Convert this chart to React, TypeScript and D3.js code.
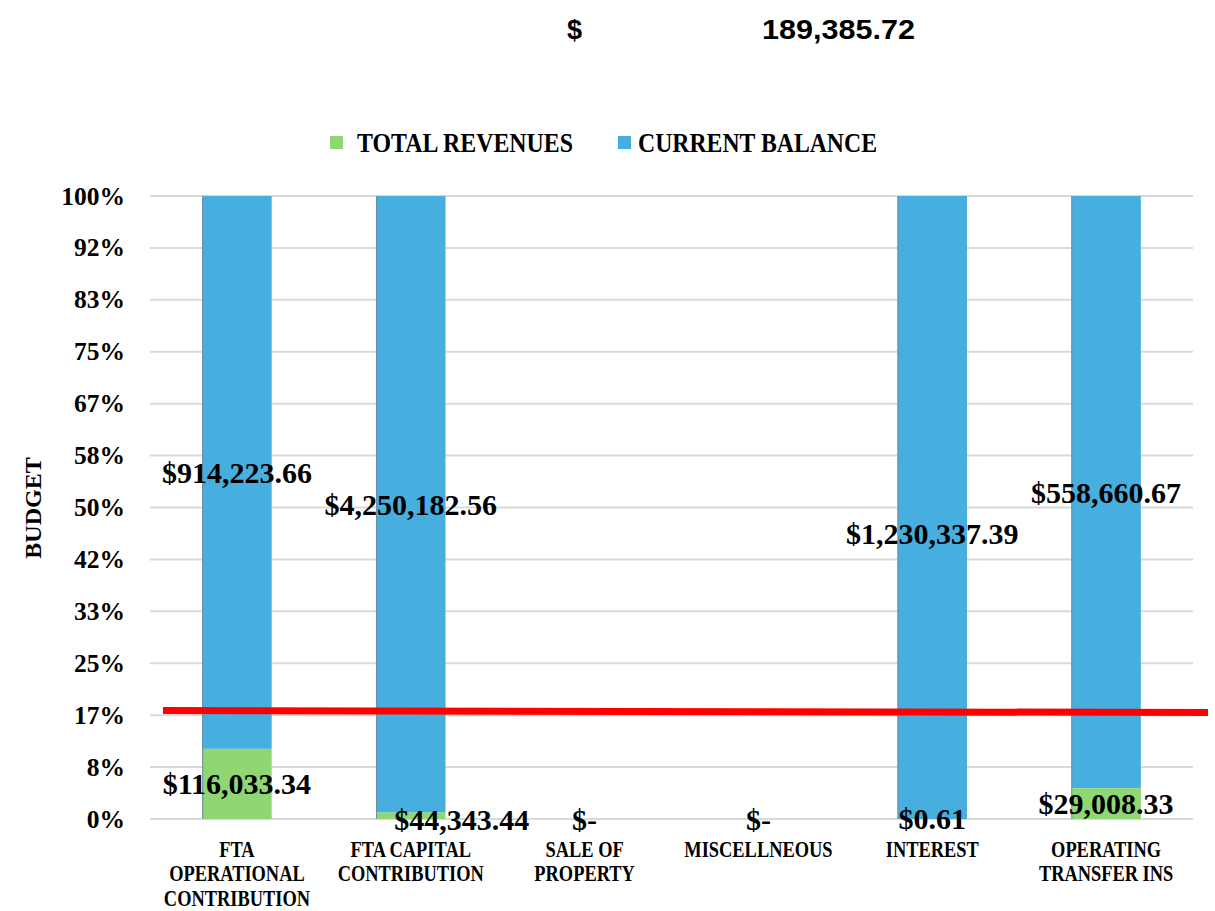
import React from "react";
import * as d3 from "d3";

const categories = [
  ["FTA", "OPERATIONAL", "CONTRIBUTION"],
  ["FTA CAPITAL", "CONTRIBUTION"],
  ["SALE OF", "PROPERTY"],
  ["MISCELLNEOUS"],
  ["INTEREST"],
  ["OPERATING", "TRANSFER INS"],
];
const totalRevenues = [116033.34, 44343.44, 0, 0, 0.61, 29008.33];
const currentBalance = [914223.66, 4250182.56, 0, 0, 1230337.39, 558660.67];
const yTicks = d3.range(0, 13).map((i) => i / 12);
const targetShare = [0.174, 0.171];
const headline = 189385.72;
const seriesNames = ["TOTAL REVENUES", "CURRENT BALANCE"];

// label nudges (the labels were dragged by hand in the original)
const revLabelDx = [0, 51, 0, 0, 0, 0];
const revLabelDy = [0, 4, 0, 0, 0, 0];
const balLabelDy = [0, 0, 0, 0, 26, 0];

const GREEN = "#90d672";
const BLUE = "#47afe0";
const SERIF = "'Liberation Serif', 'DejaVu Serif', serif";

const W = 1215;
const H = 911;

const money = (v: number) => (v === 0 ? "$-" : "$" + d3.format(",.2f")(v));

export default function App() {
  const x = d3
    .scaleBand<number>()
    .domain(categories.map((_, i) => i))
    .range([150, 1193])
    .paddingInner(0.6)
    .paddingOuter(0.3);
  const y = d3.scaleLinear().domain([0, 1]).range([819, 196]);
  const lineX = d3.scaleLinear().domain([0, 1]).range([163, 1208]);

  const rows = categories.map((c, i) => {
    const total = totalRevenues[i] + currentBalance[i];
    const rev = total ? totalRevenues[i] / total : 0;
    return { i, rev, top: total ? 1 : 0 };
  });
  const pct = d3.format(".0%");
  const line = d3
    .line<number>()
    .x((_, i) => lineX(i))
    .y((d) => y(d));

  return (
    <svg
      width={W}
      height={H}
      style={{ position: "absolute", left: 0, top: 0, background: "#fff" }}
    >
      {/* headline */}
      <g fontFamily="'Liberation Sans', Arial, sans-serif" fontWeight="bold" fontSize={27} fill="#000">
        <text x={567} y={39}>$</text>
        <text x={762} y={39} textLength={153} lengthAdjust="spacingAndGlyphs">
          {d3.format(",.2f")(headline)}
        </text>
      </g>

      {/* legend */}
      <g fontFamily={SERIF} fontWeight="bold" fontSize={27}>
        <rect x={330} y={136} width={13} height={13} fill={GREEN} />
        <text x={357} y={152} textLength={216} lengthAdjust="spacingAndGlyphs">
          {seriesNames[0]}
        </text>
        <rect x={618} y={136} width={13} height={13} fill={BLUE} />
        <text x={638} y={152} textLength={239} lengthAdjust="spacingAndGlyphs">
          {seriesNames[1]}
        </text>
      </g>

      {/* grid + y axis */}
      <g>
        {yTicks.map((t) => (
          <g key={t}>
            <line x1={150} x2={1193} y1={y(t)} y2={y(t)} stroke="#d9d9d9" strokeWidth={2} />
            <text
              x={125}
              y={y(t)}
              textAnchor="end"
              dominantBaseline="central"
              fontFamily={SERIF}
              fontWeight="bold"
              fontSize={25.5}
            >
              {pct(t)}
            </text>
          </g>
        ))}
      </g>
      <text
        transform={`translate(41,508) rotate(-90)`}
        textAnchor="middle"
        fontFamily={SERIF}
        fontWeight="bold"
        fontSize={24}
      >
        BUDGET
      </text>

      {/* bars */}
      {rows.map((r) => (
        <g key={r.i}>
          {r.top > 0 && (
            <>
              <rect
                x={x(r.i)}
                width={x.bandwidth()}
                y={y(r.top)}
                height={y(r.rev) - y(r.top)}
                fill={BLUE}
              />
              <rect
                x={x(r.i)}
                width={x.bandwidth()}
                y={y(r.rev)}
                height={y(0) - y(r.rev)}
                fill={GREEN}
              />
              <line
                x1={x(r.i)! + 0.5}
                x2={x(r.i)! + 0.5}
                y1={y(r.top)}
                y2={y(0)}
                stroke="#6f8fa0"
                strokeWidth={1}
              />
            </>
          )}
        </g>
      ))}

      {/* target line */}
      <path d={line(targetShare) || ""} stroke="#ff0000" strokeWidth={7} fill="none" />

      {/* data labels */}
      <g fontFamily={SERIF} fontWeight="bold" fontSize={30} textAnchor="middle" dominantBaseline="central">
        {rows.map((r) => {
          const cx = x(r.i)! + x.bandwidth() / 2;
          return (
            <g key={r.i}>
              {currentBalance[r.i] > 0 && (
                <text x={cx} y={(y(r.top) + y(r.rev)) / 2 + balLabelDy[r.i]}>
                  {money(currentBalance[r.i])}
                </text>
              )}
              <text
                x={cx + revLabelDx[r.i]}
                y={(y(r.rev) + y(0)) / 2 + revLabelDy[r.i]}
              >
                {money(totalRevenues[r.i])}
              </text>
            </g>
          );
        })}
      </g>

      {/* x axis labels */}
      <g fontFamily={SERIF} fontWeight="bold" fontSize={23} textAnchor="middle">
        {categories.map((lines, i) => (
          <g
            key={i}
            transform={`translate(${x(i)! + x.bandwidth() / 2},857) scale(0.8,1)`}
          >
            {lines.map((l, j) => (
              <text key={j} x={0} y={j * 24.5}>
                {l}
              </text>
            ))}
          </g>
        ))}
      </g>
    </svg>
  );
}
